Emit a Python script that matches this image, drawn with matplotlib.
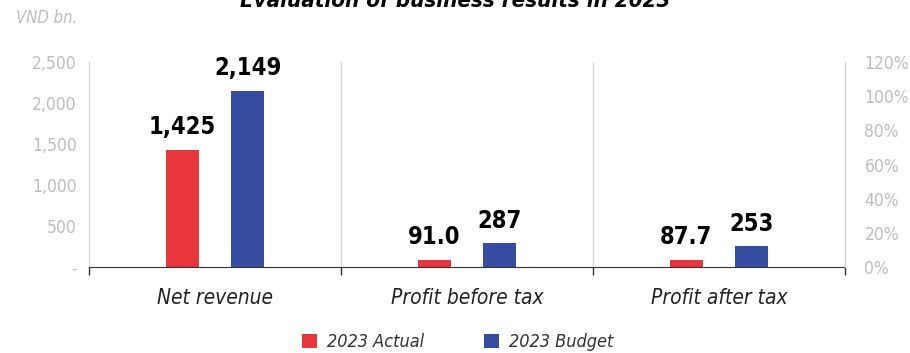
import numpy as np
import matplotlib.pyplot as plt
from matplotlib.ticker import FuncFormatter

categories = ["Net revenue", "Profit before tax", "Profit after tax"]
actual = [1425, 91.0, 87.7]
budget = [2149, 287, 253]
actual_labels = ["1,425", "91.0", "87.7"]
budget_labels = ["2,149", "287", "253"]

plt.rcParams['font.family'] = ['DejaVu Sans']
plt.rcParams['font.stretch'] = 'condensed'

red = "#E8363A"
blue = "#354CA1"
grey = "#BDBDBD"

fig = plt.figure(figsize=(9.1, 3.53), dpi=100)
ax = fig.add_axes([89/910, 1-267/353, (845-89)/910, (267-62)/353])

x = np.arange(len(categories))
w = 0.13
ax.bar(x - w, actual, w, color=red, label="2023 Actual")
ax.bar(x + w, budget, w, color=blue, label="2023 Budget")

for i in range(len(x)):
    ax.text(x[i] - w, actual[i] + 130, actual_labels[i], ha='center', va='bottom',
            fontsize=17, fontweight='bold', color='black')
    ax.text(x[i] + w, budget[i] + 130, budget_labels[i], ha='center', va='bottom',
            fontsize=17, fontweight='bold', color='black')

ax.set_xlim(-0.5, 2.5)
ax.set_ylim(0, 2500)
ax.set_yticks([0, 500, 1000, 1500, 2000, 2500])
ax.yaxis.set_major_formatter(FuncFormatter(lambda v, p: "-" if v == 0 else f"{int(v):,}"))
ax.tick_params(axis='y', length=0, colors=grey, labelsize=12.5, pad=9)

ax.set_xticks([-0.5, 0.5, 1.5, 2.5])
ax.set_xticklabels([])
ax.tick_params(axis='x', length=6, width=1, color='#333333', direction='out')
for i, c in enumerate(categories):
    ax.text(x[i], -0.1, c, transform=ax.get_xaxis_transform(), ha='center', va='top',
            fontsize=15, style='italic', color='#222222')

ax.spines['top'].set_visible(False)
ax.spines['left'].set_color('#D0D0D0')
ax.spines['right'].set_color('#D0D0D0')
ax.spines['bottom'].set_color('#333333')
for v in [0.5, 1.5]:
    ax.axvline(v, color='#D9D9D9', lw=1, zorder=0)

ax2 = ax.twinx()
ax2.set_ylim(0, 1.2)
ax2.set_yticks(np.arange(0, 1.21, 0.2))
ax2.yaxis.set_major_formatter(FuncFormatter(lambda v, p: f"{int(round(v*100))}%"))
ax2.tick_params(axis='y', length=0, colors=grey, labelsize=12.5, pad=14)
for s in ['top', 'left', 'bottom']:
    ax2.spines[s].set_visible(False)
ax2.spines['right'].set_color('#D0D0D0')

fig.text(0.5, 1 - 1/353, "Evaluation of business results in 2023", ha='center', va='center',
         fontsize=16, fontweight='bold', style='italic', color='black')
fig.text(16/910, 1 - 18/353, "VND bn.", ha='left', va='center', fontsize=12,
         style='italic', color=grey)

handles, labels = ax.get_legend_handles_labels()
fig.legend(handles, labels, loc='center', bbox_to_anchor=(458/910, 1 - 342/353), ncol=2,
           frameon=False, handlelength=0.8, handleheight=0.8,
           columnspacing=3.3, handletextpad=0.6,
           prop={'style': 'italic', 'size': 13}, labelcolor='#333333')

fig.savefig("out.png", dpi=100)
